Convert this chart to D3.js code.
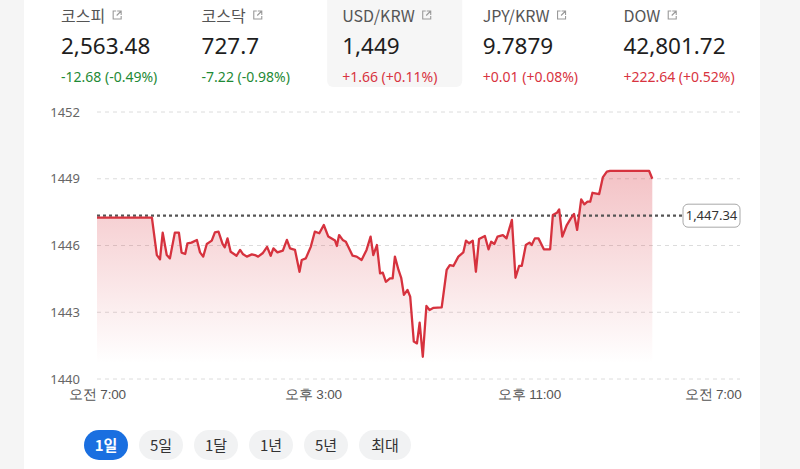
<!DOCTYPE html>
<html>
<head>
<meta charset="utf-8">
<script src="https://cdn.jsdelivr.net/npm/d3@7"></script>
<style>
  html, body { margin: 0; padding: 0; background: #f5f5f5; }
  svg { display: block; font-family: "Noto Sans CJK KR", "Noto Sans", sans-serif; }
</style>
</head>
<body>
<svg id="chart" width="800" height="469"></svg>
<script>
// ---------- data ----------
const tickers = ["코스피", "코스닥", "USD/KRW", "JPY/KRW", "DOW"];
const prices = ["2,563.48", "727.7", "1,449", "9.7879", "42,801.72"];
const changes = ["-12.68 (-0.49%)", "-7.22 (-0.98%)", "+1.66 (+0.11%)", "+0.01 (+0.08%)", "+222.64 (+0.52%)"];
const selectedTicker = "USD/KRW";

const prevClose = 1447.34;
const yTicks = [1440, 1443, 1446, 1449, 1452];
const xTickTimes = ["07:00", "15:00", "23:00", "07:00+"];
const ranges = ["1일", "5일", "1달", "1년", "5년", "최대"];

const times = ["07:00","09:02","09:13","09:20","09:26","09:35","09:42","09:53","10:02","10:08","10:16","10:21","10:30","10:42","10:49","10:56","11:04","11:15","11:22","11:30","11:39","11:44","11:50","11:57","12:10","12:18","12:24","12:33","12:44","12:51","12:58","13:08","13:18","13:26","13:32","13:41","13:53","14:02","14:09","14:20","14:30","14:35","14:44","14:55","15:04","15:14","15:24","15:34","15:49","15:53","15:58","16:06","16:13","16:28","16:37","16:48","16:59","17:08","17:14","17:22","17:29","17:35","17:42","17:51","17:57","18:02","18:10","18:16","18:22","18:30","18:36","18:44","18:51","18:57","19:04","19:12","19:19","19:28","19:46","19:57","20:04","20:12","20:23","20:34","20:40","20:47","20:55","21:02","21:09","21:22","21:30","21:36","21:43","21:50","22:02","22:10","22:22","22:30","22:38","22:44","22:53","23:01","23:06","23:13","23:21","23:33","23:47","23:53","00:02","00:07","00:14","00:24","00:33","00:40","00:47","00:56","01:03","01:10","01:16","01:21","01:36","01:44","01:53","02:00","03:27","03:34"];
const values = [1447.25,1447.25,1445.57,1445.38,1446.58,1445.57,1445.42,1446.58,1446.58,1445.68,1445.62,1446.10,1446.13,1446.25,1445.69,1445.50,1446.07,1446.22,1446.59,1446.62,1446.07,1445.92,1446.32,1445.72,1445.54,1445.80,1445.62,1445.50,1445.60,1445.57,1445.50,1445.65,1445.94,1445.54,1445.87,1445.69,1445.77,1446.25,1445.87,1445.80,1444.82,1445.35,1445.42,1445.94,1446.62,1446.55,1446.92,1446.40,1446.22,1445.98,1446.47,1446.25,1446.17,1445.54,1445.50,1445.35,1445.80,1446.40,1445.57,1446.02,1444.75,1444.78,1444.37,1444.52,1444.52,1445.50,1444.90,1444.55,1443.78,1444.00,1443.70,1441.68,1441.60,1442.53,1441.00,1443.28,1443.10,1443.20,1443.22,1444.90,1445.12,1445.08,1445.50,1445.69,1446.22,1446.10,1446.22,1444.82,1446.29,1446.43,1445.83,1446.17,1446.07,1446.40,1446.47,1446.32,1447.15,1444.55,1445.08,1445.09,1446.02,1446.13,1446.02,1446.32,1446.32,1445.83,1445.83,1447.37,1447.47,1447.62,1446.40,1446.92,1447.22,1447.42,1446.70,1448.07,1447.85,1447.97,1447.97,1448.37,1448.31,1449.06,1449.32,1449.35,1449.35,1449.00];

// ---------- helpers ----------
function parseT(s) {
  const next = s.endsWith("+");
  const [h, m] = s.replace("+", "").split(":").map(Number);
  const dayOffset = (next || h < 7) ? 1 : 0;
  return new Date(2025, 0, 1 + dayOffset, h, m);
}
const data = times.map((t, i) => ({ t: parseT(t), v: values[i] }));

const svg = d3.select("#chart");

// panel background
svg.append("rect").attr("x", 24).attr("y", 0).attr("width", 736).attr("height", 469).attr("fill", "#ffffff");

// ---------- header cards ----------
const cardX = d3.scaleBand().domain(tickers).range([47, 750]).paddingInner(0);
const up = "#d8343f", down = "#1f8a36";
const cards = svg.append("g").selectAll("g").data(tickers).join("g")
  .attr("transform", d => `translate(${cardX(d)},0)`);

cards.filter(d => d === selectedTicker).append("rect")
  .attr("x", -1).attr("y", -6).attr("width", 135).attr("height", 93).attr("rx", 6)
  .attr("fill", "#f6f6f6");

cards.append("text").attr("x", 14).attr("y", 22)
  .attr("font-size", 16).attr("fill", "#555").text(d => d)
  .each(function () {
    const w = this.getComputedTextLength();
    const g = d3.select(this.parentNode).append("g")
      .attr("transform", `translate(${14 + w + 7},10)`)
      .attr("fill", "none").attr("stroke", "#9a9a9a").attr("stroke-width", 1.1);
    g.append("path").attr("d", "M4,1 H1 V9 H9 V6");
    g.append("path").attr("d", "M5,1 H9 V5 M9,1 L4.5,5.5");
  });

cards.append("text").attr("x", 14).attr("y", 54)
  .attr("font-size", 22.5).attr("fill", "#1e1e1e").attr("font-family", "'Noto Sans', sans-serif")
  .text((d, i) => prices[i]);

cards.append("text").attr("x", 14).attr("y", 82)
  .attr("font-size", 14).attr("font-family", "'Noto Sans', sans-serif")
  .attr("fill", (d, i) => changes[i].startsWith("-") ? down : up)
  .text((d, i) => changes[i]);

// ---------- chart ----------
const x = d3.scaleTime().domain([parseT("07:00"), parseT("07:00+")]).range([97, 745]);
const y = d3.scaleLinear().domain([1440, 1452]).range([379, 112]);
const gridRight = 740;

// grid
svg.append("g").selectAll("line").data(yTicks).join("line")
  .attr("x1", x.range()[0]).attr("x2", gridRight)
  .attr("y1", d => y(d)).attr("y2", d => y(d))
  .attr("stroke", "#dcdcdc").attr("stroke-width", 1).attr("stroke-dasharray", "4,4");

// y axis labels
const yAxis = svg.append("g").attr("transform", `translate(${x.range()[0]},0)`)
  .call(d3.axisLeft(y).tickValues(yTicks).tickSize(0).tickPadding(17).tickFormat(d3.format("d")));
yAxis.select(".domain").remove();
yAxis.selectAll("text").attr("font-size", 13).attr("fill", "#666")
  .attr("font-family", "'Noto Sans', sans-serif");

// x axis labels
const fmtX = d => {
  const h = d.getHours();
  const ap = h < 12 ? "오전" : "오후";
  const hh = h % 12 === 0 ? 12 : h % 12;
  return `${ap} ${hh}:00`;
};
const xTickDates = xTickTimes.map(parseT);
const xAxis = svg.append("g").attr("transform", `translate(0,${y(1440)})`)
  .call(d3.axisBottom(x).tickValues(xTickDates).tickSize(0).tickPadding(10).tickFormat(fmtX));
xAxis.select(".domain").remove();
xAxis.selectAll("text").attr("font-size", 13.5).attr("fill", "#555").attr("letter-spacing", "-0.2");
xAxis.selectAll(".tick").filter((d, i) => i === xTickDates.length - 1)
  .select("text").attr("text-anchor", "end").attr("x", -4);

// gradient
const defs = svg.append("defs");
const grad = defs.append("linearGradient").attr("id", "fillGrad")
  .attr("gradientUnits", "userSpaceOnUse")
  .attr("x1", 0).attr("x2", 0)
  .attr("y1", y(d3.max(values))).attr("y2", y(1440.7));
grad.append("stop").attr("offset", 0).attr("stop-color", "#d8343f").attr("stop-opacity", 0.3);
grad.append("stop").attr("offset", 1).attr("stop-color", "#d8343f").attr("stop-opacity", 0);

const area = d3.area().x(d => x(d.t)).y0(y(1440.7)).y1(d => y(d.v));
svg.append("path").datum(data).attr("d", area).attr("fill", "url(#fillGrad)");

// previous close line
const labelX = 683;
svg.append("line")
  .attr("x1", x.range()[0]).attr("x2", labelX)
  .attr("y1", y(prevClose)).attr("y2", y(prevClose))
  .attr("stroke", "#555").attr("stroke-width", 2.2).attr("stroke-dasharray", "3,3");

const line = d3.line().x(d => x(d.t)).y(d => y(d.v));
svg.append("path").datum(data).attr("d", line)
  .attr("fill", "none").attr("stroke", "#d6323e").attr("stroke-width", 2.3).attr("stroke-linejoin", "round");

// prev close label
const lg = svg.append("g").attr("transform", `translate(${labelX},${y(prevClose)})`);
lg.append("rect").attr("x", 0).attr("y", -11.5).attr("width", 57).attr("height", 23).attr("rx", 5)
  .attr("fill", "#fff").attr("stroke", "#a8a8a8").attr("stroke-width", 1);
lg.append("text").attr("x", 28.5).attr("y", 4.5).attr("text-anchor", "middle")
  .attr("font-size", 13).attr("fill", "#333").attr("font-family", "'Noto Sans', sans-serif")
  .text(d3.format(",.2f")(prevClose));

// ---------- range buttons ----------
const btnWidths = [44, 44, 44, 44, 44, 52];
let bx = 84;
const btnG = svg.append("g");
ranges.forEach((r, i) => {
  const g = btnG.append("g").attr("transform", `translate(${bx},430)`);
  g.append("rect").attr("width", btnWidths[i]).attr("height", 30).attr("rx", 15)
    .attr("fill", i === 0 ? "#1a6fe0" : "#f1f2f3");
  g.append("text").attr("x", btnWidths[i] / 2).attr("y", 20.5).attr("text-anchor", "middle")
    .attr("font-size", 15).attr("font-weight", i === 0 ? "bold" : "normal")
    .attr("fill", i === 0 ? "#fff" : "#333").text(r);
  bx += btnWidths[i] + 11;
});
</script>
</body>
</html>
